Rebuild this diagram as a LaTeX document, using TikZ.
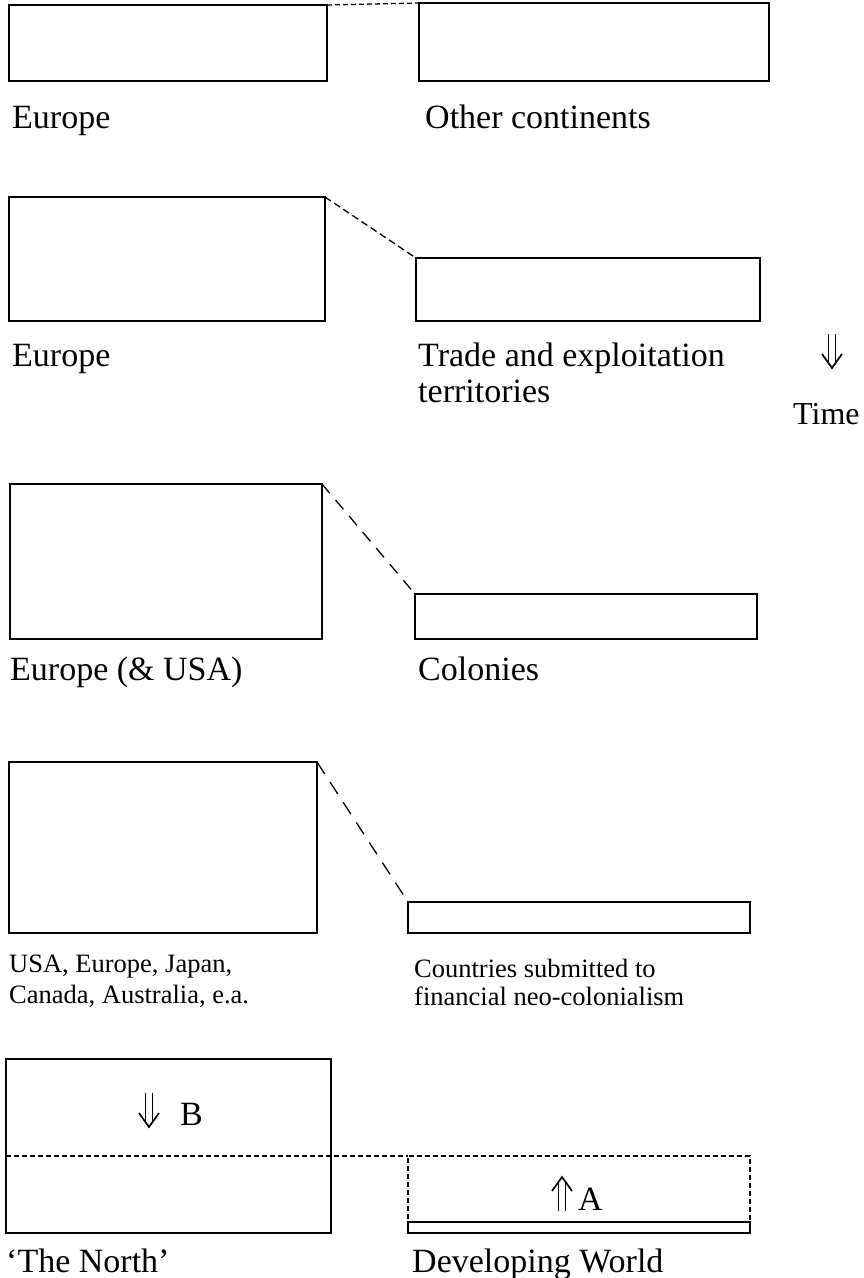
\documentclass[tikz,border=0pt]{standalone}
\usepackage{fontspec}
\setmainfont{Liberation Serif}
\begin{document}
\begin{tikzpicture}[x=1pt,y=-1pt,
  box/.style={draw, line width=1.4pt, rectangle, inner sep=0pt, outer sep=0pt, anchor=north west},
  lbl/.style={anchor=base west, inner sep=0pt, font=\fontsize{34}{40}\selectfont},
  small/.style={anchor=base west, inner sep=0pt, font=\fontsize{26.5}{30}\selectfont},
  link/.style={line width=1.3pt, dash pattern=on 5pt off 3pt},
  longlink/.style={line width=1.3pt, dash pattern=on 12pt off 9pt},
  dnarrow/.pic={
    \draw[line width=1.5pt] (-3.5,0) -- (-3.5,29) (3.5,0) -- (3.5,29);
    \draw[line width=1.7pt, line join=miter] (-10,20) -- (0,34) -- (10,20);
  }
]
\useasboundingbox (0,0) rectangle (863,1278);

% --- stage 1
\node[box, minimum width=318pt, minimum height=76pt] (eu1) at (9,5) {};
\node[box, minimum width=350pt, minimum height=78pt] (oc1) at (419,3) {};
\draw[link] (eu1.north east) -- (oc1.north west);
\node[lbl] (eu1t) at (12,128) {Europe};
\node[lbl] (oc1t) at (425,128) {Other continents};

% --- stage 2
\node[box, minimum width=316pt, minimum height=124pt] (eu2) at (9,197) {};
\node[box, minimum width=344pt, minimum height=63pt] (tr2) at (416,258) {};
\draw[line width=1.3pt, dash pattern=on 7pt off 4pt] (eu2.north east) -- (tr2.north west);
\node[lbl] (eu2t) at (12,366) {Europe};
\node[lbl] (tr2t) at (418,366) {Trade and exploitation};
\node[lbl] (tr2u) at (418,402) {territories};

% time arrow
\coordinate (ttop) at (832,334);
\pic at (ttop) {dnarrow};
\node[lbl, font=\fontsize{32}{38}\selectfont] (time) at (793,424) {Time};

% --- stage 3
\node[box, minimum width=312pt, minimum height=155pt] (eu3) at (10,484) {};
\node[box, minimum width=342pt, minimum height=45pt] (co3) at (415,594) {};
\draw[longlink] (eu3.north east) -- (co3.north west);
\node[lbl] (eu3t) at (10,680) {Europe (\& USA)};
\node[lbl] (co3t) at (418,680) {Colonies};

% --- stage 4
\node[box, minimum width=308pt, minimum height=171pt] (eu4) at (9,762) {};
\node[box, minimum width=342pt, minimum height=31pt] (nc4) at (408,902) {};
\draw[line width=1.3pt, dash pattern=on 14pt off 10pt] (eu4.north east) -- (nc4.north west);
\node[small] (eu4t) at (9,972) {USA, Europe, Japan,};
\node[small] (eu4u) at (9,1003) {Canada, Australia, e.a.};
\node[small] (nc4t) at (414,977) {Countries submitted to};
\node[small] (nc4u) at (414,1005) {financial neo-colonialism};

% --- stage 5
\node[box, minimum width=325pt, minimum height=174pt] (north) at (6,1059) {};
\node[box, minimum width=342pt, minimum height=11pt] (dwbase) at (408,1222) {};
\node[box, dash pattern=on 5pt off 3pt, line width=1.3pt, minimum width=342pt, minimum height=66pt] (dw) at (408,1156) {};
\draw[link] (north.west |- dw.north west) -- (dw.north west);
\coordinate (btop) at (149,1093);
\pic at (btop) {dnarrow};
\node[lbl] (bl) at (180,1125) {B};
\coordinate (abot) at (562,1211);
\pic[yscale=-1] at (abot) {dnarrow};
\node[lbl] (al) at (578,1210) {A};
\node[lbl] (northt) at (6,1272) {`The North'};
\node[lbl] (dwt) at (412,1272) {Developing World};
\end{tikzpicture}
\end{document}
